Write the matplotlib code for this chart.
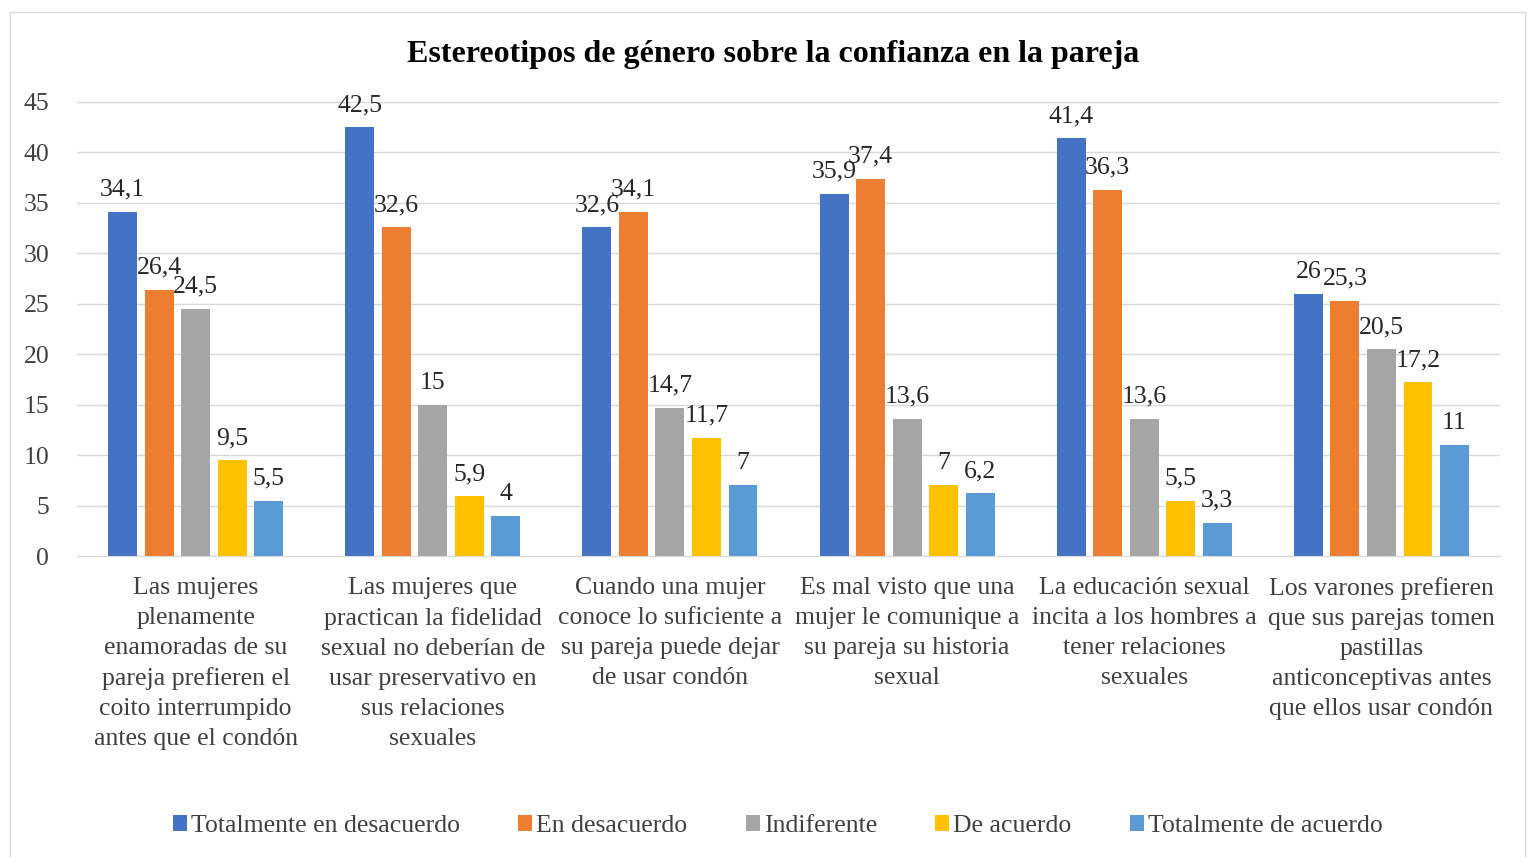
import numpy as np
import matplotlib.pyplot as plt
from matplotlib.patches import Rectangle

plt.rcParams['font.family'] = ['Liberation Serif', 'DejaVu Serif']

categories = [
    "Las mujeres\nplenamente\nenamoradas de su\npareja prefieren el\ncoito interrumpido\nantes que el condón",
    "Las mujeres que\npractican la fidelidad\nsexual no deberían de\nusar preservativo en\nsus relaciones\nsexuales",
    "Cuando una mujer\nconoce lo suficiente a\nsu pareja puede dejar\nde usar condón",
    "Es mal visto que una\nmujer le comunique a\nsu pareja su historia\nsexual",
    "La educación sexual\nincita a los hombres a\ntener relaciones\nsexuales",
    "Los varones prefieren\nque sus parejas tomen\npastillas\nanticonceptivas antes\nque ellos usar condón",
]
series_names = ["Totalmente en desacuerdo", "En desacuerdo", "Indiferente",
                "De acuerdo", "Totalmente de acuerdo"]
tot_desacuerdo = [34.1, 42.5, 32.6, 35.9, 41.4, 26]
desacuerdo = [26.4, 32.6, 34.1, 37.4, 36.3, 25.3]
indiferente = [24.5, 15, 14.7, 13.6, 13.6, 20.5]
de_acuerdo = [9.5, 5.9, 11.7, 7, 5.5, 17.2]
tot_acuerdo = [5.5, 4, 7, 6.2, 3.3, 11]
colors = ["#4472C4", "#ED7D31", "#A5A5A5", "#FFC000", "#5B9BD5"]

series = [tot_desacuerdo, desacuerdo, indiferente, de_acuerdo, tot_acuerdo]

fs = 18.5

fig = plt.figure(figsize=(15.28, 8.57), dpi=100)
ax = fig.add_axes([0.0504, 0.3512, 0.9313, 0.5298])

x = np.arange(len(categories))
step = 0.154
width = 0.122
for i, (vals, name, c) in enumerate(zip(series, series_names, colors)):
    pos = x + (i - 2) * step
    ax.bar(pos, vals, width, color=c, label=name, zorder=3)
    for p, v in zip(pos, vals):
        txt = ("%g" % v).replace(".", ",")
        ax.text(p, v + 1.1, txt, ha="center", va="bottom", fontsize=fs,
                color="#262626", zorder=4)

ax.set_xlim(-0.5, len(categories) - 0.5)
ax.set_ylim(0, 45)
ax.set_yticks(range(0, 46, 5))
ax.yaxis.grid(True, color="#D9D9D9", linewidth=1, zorder=0)
ax.set_xticks(x)
ax.set_xticklabels(categories, fontsize=fs, color="#404040", linespacing=1.47)
ax.tick_params(axis="y", length=0, labelsize=fs, labelcolor="#404040", pad=20)
ax.tick_params(axis="x", length=0, pad=15)
for s in ["top", "right", "left"]:
    ax.spines[s].set_visible(False)
ax.spines["bottom"].set_color("#D9D9D9")
ax.spines["bottom"].set_zorder(3)

fig.text(0.506, 0.936, "Estereotipos de género sobre la confianza en la pareja",
         ha="center", va="center", fontsize=23, fontweight="bold")

leg = fig.legend(loc="center", bbox_to_anchor=(0.509, 0.036), ncol=5,
                 frameon=False, fontsize=fs, handlelength=0.55, handleheight=0.55,
                 handletextpad=0.15, columnspacing=2.27)
for t in leg.get_texts():
    t.set_color("#404040")

fig.patches.append(Rectangle((10 / 1528, -0.01), 1515 / 1528, 1 - 12 / 857 + 0.01,
                             transform=fig.transFigure, fill=False,
                             edgecolor="#D9D9D9", linewidth=1))

fig.savefig("out.png", dpi=100)
